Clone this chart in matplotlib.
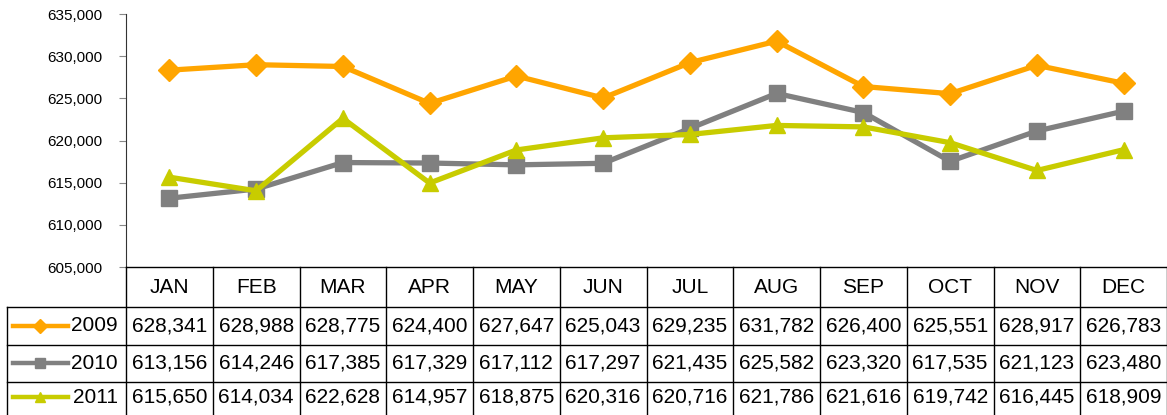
import numpy as np
import matplotlib.pyplot as plt
from matplotlib.lines import Line2D

plt.rcParams['font.family'] = ['Liberation Sans', 'DejaVu Sans']

months = ['JAN', 'FEB', 'MAR', 'APR', 'MAY', 'JUN', 'JUL', 'AUG', 'SEP', 'OCT', 'NOV', 'DEC']
years = ['2009', '2010', '2011']
v2009 = [628341, 628988, 628775, 624400, 627647, 625043, 629235, 631782, 626400, 625551, 628917, 626783]
v2010 = [613156, 614246, 617385, 617329, 617112, 617297, 621435, 625582, 623320, 617535, 621123, 623480]
v2011 = [615650, 614034, 622628, 614957, 618875, 620316, 620716, 621786, 621616, 619742, 616445, 618909]
series = [v2009, v2010, v2011]
colors = ['#FFA500', '#808080', '#C8CC00']
markers = ['D', 's', '^']
msizes = [11, 11, 12]

W, H = 1167, 415
fig = plt.figure(figsize=(W / 100, H / 100), dpi=100)

def fx(px):
    return px / W

def fy(py):
    return 1 - py / H

left, right, top, bottom = 126, 1167, 14, 267
ax = fig.add_axes([fx(left), fy(bottom), fx(right) - fx(left), fy(top) - fy(bottom)])
x = np.arange(len(months))
for vals, c, m, ms in zip(series, colors, markers, msizes):
    ax.plot(x, vals, color=c, lw=3.8, marker=m, markersize=ms, solid_joinstyle='miter')
ax.set_xlim(-0.5, 11.5)
ax.set_ylim(605000, 635000)
ax.set_yticks(np.arange(605000, 635001, 5000))
ax.set_yticklabels([f'{t:,}' for t in range(605000, 635001, 5000)], fontsize=11)
ax.set_xticks([])
for s in ['top', 'right', 'bottom']:
    ax.spines[s].set_visible(False)
ax.spines['left'].set_color('#333333')
ax.tick_params(axis='y', length=5, color='#888888', pad=12)

# data table below the plot
col_w = (right - left) / 12
rows_y = [267, 307, 344.5, 382, 419.5]
lk = dict(color='black', lw=1.0, transform=fig.transFigure, clip_on=False)
# horizontal lines
fig.add_artist(Line2D([fx(left), fx(right)], [fy(rows_y[0])] * 2, **lk))
for yy in rows_y[1:]:
    fig.add_artist(Line2D([fx(7), fx(right)], [fy(yy)] * 2, **lk))
# vertical lines
for i in range(13):
    xx = left + i * col_w
    fig.add_artist(Line2D([fx(xx)] * 2, [fy(rows_y[0]), fy(rows_y[-1])], **lk))
fig.add_artist(Line2D([fx(7)] * 2, [fy(rows_y[1]), fy(rows_y[-1])], **lk))

for i, mname in enumerate(months):
    fig.text(fx(left + (i + 0.5) * col_w), fy((rows_y[0] + rows_y[1]) / 2), mname,
             ha='center', va='center', fontsize=15)

for r, (yr, vals, c, m) in enumerate(zip(years, series, colors, markers)):
    yc = fy(min((rows_y[r + 1] + rows_y[r + 2]) / 2, 397))
    fig.text(fx(118), yc, yr, ha='right', va='center', fontsize=15)
    fig.add_artist(Line2D([fx(13), fx(68)], [yc, yc], color=c, lw=3.2, transform=fig.transFigure))
    fig.add_artist(Line2D([fx(40)], [yc], color=c, marker=m, markersize=7, transform=fig.transFigure))
    for i, v in enumerate(vals):
        fig.text(fx(left + (i + 0.5) * col_w), yc, f'{v:,}', ha='center', va='center', fontsize=15)

fig.savefig('out.png', dpi=100)
